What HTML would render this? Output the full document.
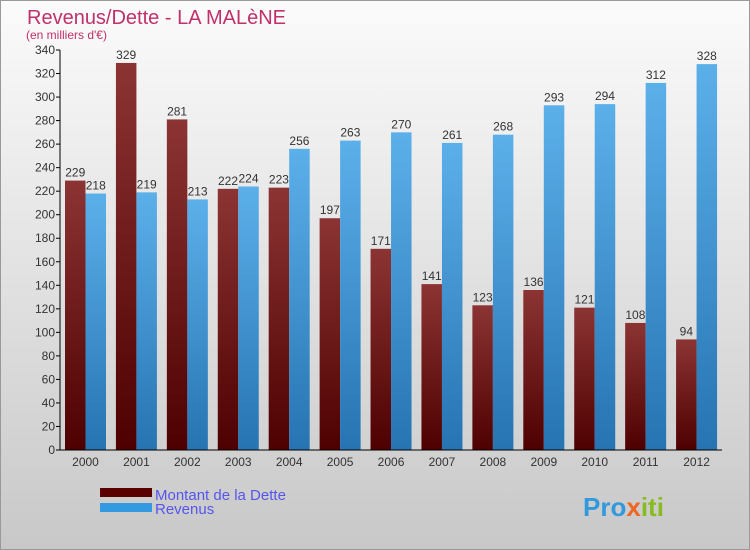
<!DOCTYPE html>
<html><head><meta charset="utf-8"><style>
body{margin:0}svg{display:block;font-family:"Liberation Sans",sans-serif}
</style></head><body>
<svg id="c" width="750" height="550">
<defs>
<linearGradient id="bg" x1="0" y1="0" x2="0" y2="1"><stop offset="0" stop-color="#fbfbfb"/><stop offset="1" stop-color="#c8c8c8"/></linearGradient>
<linearGradient id="gd" x1="0" y1="0" x2="0" y2="1"><stop offset="0" stop-color="#8c3434"/><stop offset="1" stop-color="#4e0000"/></linearGradient>
<linearGradient id="gr" x1="0" y1="0" x2="0" y2="1"><stop offset="0" stop-color="#5cb0ea"/><stop offset="1" stop-color="#2674b2"/></linearGradient>
</defs>
<rect x="0.5" y="0.5" width="749" height="549" fill="url(#bg)" stroke="#999"/>
<text x="27" y="24" font-size="20" fill="#c0306a">Revenus/Dette - LA MALèNE</text>
<text x="26" y="39" font-size="12" fill="#c0306a">(en milliers d'€)</text>
<g id="g"></g>
<rect x="100" y="488" width="52" height="9" fill="#5a0000"/>
<text x="155" y="500" font-size="15" fill="#5555ee">Montant de la Dette</text>
<rect x="100" y="503" width="52" height="9" fill="#3399e0"/>
<text x="155" y="514" font-size="15" fill="#5555ee">Revenus</text>
<text x="583" y="516" font-size="26" font-weight="bold" fill="#3399dd">Pro<tspan fill="#ee6622">x</tspan><tspan fill="#88bb22">iti</tspan></text>
</svg>
<script>
const years=["2000","2001","2002","2003","2004","2005","2006","2007","2008","2009","2010","2011","2012"];
const dette=[229,329,281,222,223,197,171,141,123,136,121,108,94];
const revenus=[218,219,213,224,256,263,270,261,268,293,294,312,328];
const ticks=[0,20,40,60,80,100,120,140,160,180,200,220,240,260,280,300,320,340];
const NS="http://www.w3.org/2000/svg",g=document.getElementById("g");
const x0=60,x1=722,y0=450,yTop=50,maxV=340;
const y=v=>y0-v/maxV*(y0-yTop);
const gw=(x1-x0)/years.length;
function el(t,a,txt){const e=document.createElementNS(NS,t);for(const k in a)e.setAttribute(k,a[k]);if(txt!=null)e.textContent=txt;g.appendChild(e);return e;}
ticks.forEach(t=>{
 const l=el("line",{x1:x0-4,x2:x0,y1:y(t),y2:y(t),stroke:"#000"});
 
 
 const tx=el("text",{x:x0-5,y:y(t)+4,"font-size":12,"text-anchor":"end",fill:"#333"},t);
 
 
});
years.forEach((yr,i)=>{
 const bx=x0+i*gw+5,bw=20.5;
 const a=el("rect",{x:bx,y:y(dette[i]),width:bw,height:y0-y(dette[i]),fill:"url(#gd)"});
 
 
 const b=el("rect",{x:bx+bw,y:y(revenus[i]),width:bw,height:y0-y(revenus[i]),fill:"url(#gr)"});
 
 
 const la=el("text",{x:bx+bw/2,y:y(dette[i])-4,"font-size":12,"text-anchor":"middle",fill:"#333"},dette[i]);
 
 
 const lb=el("text",{x:bx+bw*1.5,y:y(revenus[i])-4,"font-size":12,"text-anchor":"middle",fill:"#333"},revenus[i]);
 
 
 const xl=el("text",{x:bx+bw,y:y0+16,"font-size":12,"text-anchor":"middle",fill:"#333"},yr);
 
 
});
const ya=el("line",{x1:x0,x2:x0,y1:yTop,y2:y0,stroke:"#000"});


const xa=el("line",{x1:x0,x2:x1,y1:y0,y2:y0,stroke:"#000"});


</script>
</body></html>
